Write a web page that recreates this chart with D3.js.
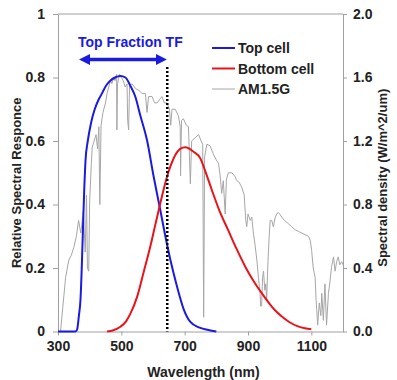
<!DOCTYPE html>
<html>
<head>
<meta charset="utf-8">
<script src="https://cdn.jsdelivr.net/npm/d3@7"></script>
<style>
  body { margin: 0; background: #fff; }
  svg text { font-family: "Liberation Sans", Arial, sans-serif; font-weight: bold; }
  .axis path, .axis line { stroke: #a0a0a0; }
  .axis text { font-size: 14px; fill: #222; }
</style>
</head>
<body>
<div id="chart"></div>
<script>
// ---- data ----
const xTicks = [300, 500, 700, 900, 1100];
const leftTicks = [0, 0.2, 0.4, 0.6, 0.8, 1];
const rightTicks = [0, 0.4, 0.8, 1.2, 1.6, 2.0];

const topCellWl  = [300, 355, 360, 366, 371, 375, 379, 383, 387, 394, 405, 416, 428, 439, 452, 465, 480, 497, 513, 528, 544, 560, 581, 602, 621, 639, 655, 676, 697, 718, 745, 775, 800];
const topCellVal = [0, 0, 0.005, 0.05, 0.1, 0.2, 0.33, 0.45, 0.54, 0.6, 0.66, 0.7, 0.73, 0.75, 0.775, 0.79, 0.8, 0.805, 0.8, 0.775, 0.74, 0.68, 0.603, 0.488, 0.393, 0.3, 0.225, 0.141, 0.07, 0.03, 0.013, 0.005, 0];

const botCellWl  = [455, 475, 497, 515, 529, 550, 570, 592, 607, 621, 633, 649, 665, 686, 702, 728, 749, 765, 786, 810, 837, 864, 891, 917, 944, 970, 990, 1007, 1030, 1058, 1080, 1100];
const botCellVal = [0, 0.004, 0.015, 0.032, 0.057, 0.11, 0.185, 0.27, 0.335, 0.395, 0.445, 0.503, 0.545, 0.575, 0.58, 0.566, 0.546, 0.505, 0.445, 0.38, 0.32, 0.26, 0.205, 0.16, 0.12, 0.085, 0.062, 0.047, 0.03, 0.016, 0.01, 0.007];

const am15Wl = [308, 315, 324, 334, 342, 350, 358, 365, 372, 380, 386, 390, 393, 397, 400, 405, 408, 414, 420, 425, 429, 432, 436, 442, 450, 455, 460, 466, 470, 476, 480, 485, 486, 488, 494, 500, 506, 512, 518, 520, 523, 526, 534, 545, 555, 565, 576, 581, 586, 597, 605, 613, 620, 628, 636, 644, 652, 656, 660, 670, 680, 686, 687, 690, 696, 705, 712, 718, 722, 733, 744, 752, 757, 760, 763, 770, 780, 790, 800, 807, 812, 817, 822, 828, 832, 838, 849, 858, 865, 872, 880, 888, 893, 896, 900, 907, 912, 917, 922, 928, 933, 938, 940, 943, 946, 949, 953, 956, 959, 963, 967, 970, 975, 980, 986, 991, 995, 1000, 1007, 1015, 1027, 1038, 1049, 1060, 1070, 1080, 1091, 1097, 1101, 1106, 1112, 1115, 1117, 1120, 1125, 1130, 1133, 1138, 1143, 1148, 1154, 1158, 1164, 1170, 1175, 1180, 1185, 1190, 1196, 1200];
const am15Val = [0, 0.15, 0.34, 0.45, 0.48, 0.53, 0.6, 0.7, 0.62, 0.76, 0.5, 0.86, 0.4, 0.38, 0.82, 1.05, 1.16, 1.2, 1.24, 1.15, 1.29, 0.8, 1.3, 1.38, 1.44, 1.5, 1.54, 1.58, 1.56, 1.6, 1.58, 1.62, 1.27, 1.56, 1.62, 1.6, 1.58, 1.54, 1.56, 1.33, 1.27, 1.55, 1.56, 1.53, 1.52, 1.5, 1.5, 1.38, 1.48, 1.48, 1.44, 1.44, 1.46, 1.48, 1.44, 1.44, 1.4, 1.3, 1.4, 1.4, 1.36, 1.29, 0.98, 1.33, 1.34, 1.3, 1.29, 0.93, 1.2, 1.22, 1.24, 1.2, 1.18, 0.09, 1.1, 1.18, 1.17, 1.12, 1.08, 1.06, 0.98, 0.87, 0.95, 0.74, 0.96, 1.0, 1.0, 0.98, 0.95, 0.94, 0.91, 0.86, 0.7, 0.66, 0.74, 0.7, 0.72, 0.62, 0.55, 0.45, 0.34, 0.24, 0.16, 0.16, 0.34, 0.38, 0.26, 0.3, 0.2, 0.44, 0.6, 0.7, 0.7, 0.66, 0.72, 0.74, 0.75, 0.74, 0.72, 0.7, 0.68, 0.66, 0.64, 0.63, 0.62, 0.61, 0.6, 0.57, 0.51, 0.4, 0.34, 0.2, 0.14, 0.04, 0.18, 0.1, 0.24, 0.07, 0.3, 0.04, 0.24, 0.3, 0.41, 0.47, 0.38, 0.44, 0.47, 0.42, 0.44, 0.42];

const tfBoundary = 645;          // wavelength of the dotted divider
const tfArrow = [365, 645];      // extent of the "Top Fraction" arrow
const legendNames = ["Top cell", "Bottom cell", "AM1.5G"];
const legendColors = ["#1a1ae0", "#e8141c", "#a6a6a6"];

// ---- layout ----
const W = 397, H = 380;
const margin = {top: 14, right: 54, bottom: 48.5, left: 58};
const width = W - margin.left - margin.right;
const height = H - margin.top - margin.bottom;

const svg = d3.select("#chart").append("svg")
    .attr("width", W)
    .attr("height", H);

const g = svg.append("g")
    .attr("transform", `translate(${margin.left},${margin.top})`);

const x = d3.scaleLinear().domain([300, 1200]).range([0, width]);
const yL = d3.scaleLinear().domain([0, 1]).range([height, 0]);
const yR = d3.scaleLinear().domain([0, 2]).range([height, 0]);

// frame top line
g.append("line")
    .attr("x1", 0).attr("x2", width)
    .attr("y1", 0).attr("y2", 0)
    .attr("stroke", "#a0a0a0");

// axes
g.append("g").attr("class", "axis")
    .attr("transform", `translate(0,${height})`)
    .call(d3.axisBottom(x).tickValues(xTicks).tickFormat(d3.format("d")).tickSize(4).tickPadding(6).tickSizeOuter(0));

g.append("g").attr("class", "axis")
    .call(d3.axisLeft(yL).tickValues(leftTicks).tickFormat(d3.format("")).tickSize(5).tickPadding(8).tickSizeOuter(0));

g.append("g").attr("class", "axis")
    .attr("transform", `translate(${width},0)`)
    .call(d3.axisRight(yR).tickValues(rightTicks).tickFormat(d3.format(".1f")).tickSize(4).tickPadding(6).tickSizeOuter(0));

// axis titles
g.append("text")
    .attr("x", width / 2 + 3).attr("y", height + 45)
    .attr("text-anchor", "middle").attr("font-size", 14).attr("fill", "#222")
    .text("Wavelength (nm)");

g.append("text")
    .attr("transform", `translate(${21 - margin.left},${height / 2 + 10}) rotate(-90)`)
    .attr("text-anchor", "middle").attr("font-size", 13).attr("fill", "#222")
    .text("Relative Spectral Responce");

g.append("text")
    .attr("transform", `translate(${width + 44},${height / 2 + 5}) rotate(-90)`)
    .attr("text-anchor", "middle").attr("font-size", 13).attr("fill", "#222")
    .text("Spectral density (W/m^2/um)");

// curves
const am = am15Wl.map((w, i) => ({w: w, v: am15Val[i]}));
const topC = topCellWl.map((w, i) => ({w: w, v: topCellVal[i]}));
const botC = botCellWl.map((w, i) => ({w: w, v: botCellVal[i]}));

g.append("path")
    .datum(am)
    .attr("fill", "none")
    .attr("stroke", legendColors[2])
    .attr("stroke-width", 1)
    .attr("d", d3.line().x(d => x(d.w)).y(d => yR(d.v)));

g.append("path")
    .datum(topC)
    .attr("fill", "none")
    .attr("stroke", legendColors[0])
    .attr("stroke-width", 2)
    .attr("d", d3.line().curve(d3.curveMonotoneX).x(d => x(d.w)).y(d => yL(d.v)));

g.append("path")
    .datum(botC)
    .attr("fill", "none")
    .attr("stroke", legendColors[1])
    .attr("stroke-width", 2)
    .attr("d", d3.line().curve(d3.curveMonotoneX).x(d => x(d.w)).y(d => yL(d.v)));

// dotted divider
g.append("line")
    .attr("x1", x(tfBoundary)).attr("x2", x(tfBoundary))
    .attr("y1", 53).attr("y2", height)
    .attr("stroke", "#000")
    .attr("stroke-width", 2.5)
    .attr("stroke-dasharray", "2,2");

// top fraction arrow
const defs = svg.append("defs");
defs.append("marker")
    .attr("id", "head")
    .attr("viewBox", "0 0 10 10")
    .attr("refX", 5).attr("refY", 5)
    .attr("markerWidth", 3.2).attr("markerHeight", 3.2)
    .attr("orient", "auto-start-reverse")
    .append("path")
    .attr("d", "M0,0 L10,5 L0,10 z")
    .attr("fill", "#1a1ae0");

g.append("line")
    .attr("x1", x(tfArrow[0]) + 6).attr("x2", x(tfArrow[1]) - 6)
    .attr("y1", 45.5).attr("y2", 45.5)
    .attr("stroke", "#1a1ae0")
    .attr("stroke-width", 3.5)
    .attr("marker-start", "url(#head)")
    .attr("marker-end", "url(#head)");

g.append("text")
    .attr("x", 20).attr("y", 32.5)
    .attr("font-size", 14).attr("fill", "#1a1ae0")
    .text("Top Fraction TF");

// legend
const legend = g.append("g").attr("transform", `translate(${212 - margin.left},${48 - margin.top})`);
legendNames.forEach((name, i) => {
    legend.append("line")
        .attr("x1", 0).attr("x2", 23)
        .attr("y1", i * 20.5).attr("y2", i * 20.5)
        .attr("stroke", legendColors[i])
        .attr("stroke-width", i < 2 ? 2 : 1);
    legend.append("text")
        .attr("x", 26).attr("y", i * 20.5 + 5)
        .attr("font-size", 14).attr("fill", "#222")
        .text(name);
});
</script>
</body>
</html>
